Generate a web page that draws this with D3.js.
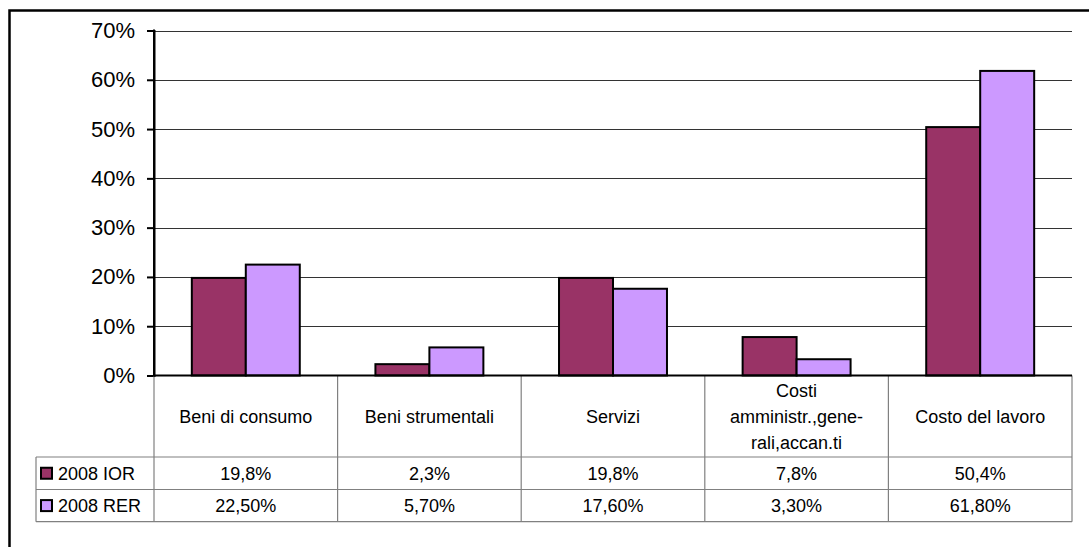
<!DOCTYPE html>
<html>
<head>
<meta charset="utf-8">
<script src="https://cdn.jsdelivr.net/npm/d3@7"></script>
<style>
  html, body { margin: 0; padding: 0; background: #fff; }
  svg { display: block; font-family: "Liberation Sans", Arial, sans-serif; }
</style>
</head>
<body>
<svg id="chart" width="1089" height="547"></svg>
<script>
// ---- data ----
const categories = ["Beni di consumo", "Beni strumentali", "Servizi", "Costi amministr.,generali,accan.ti", "Costo del lavoro"];
const categoryLines = [["Beni di consumo"], ["Beni strumentali"], ["Servizi"], ["Costi", "amministr.,gene-", "rali,accan.ti"], ["Costo del lavoro"]];
const seriesNames = ["2008 IOR", "2008 RER"];
const seriesColors = ["#993366", "#CC99FF"];
const valuesIOR = [0.198, 0.023, 0.198, 0.078, 0.504];
const valuesRER = [0.225, 0.057, 0.176, 0.033, 0.618];
const seriesDecimals = [1, 2];
const yTicks = [0, 0.1, 0.2, 0.3, 0.4, 0.5, 0.6, 0.7];

const seriesValues = [valuesIOR, valuesRER];

const svg = d3.select("#chart");

// layout
const plotLeft = 154, plotRight = 1072, plotTop = 30.5, plotBottom = 375.5;
const tableLeft = 36;
const row1 = 457, row2 = 489.5, row3 = 521.7;

// outer border
svg.append("rect").attr("x", 9.5).attr("y", 10.5).attr("width", 1200).attr("height", 800)
  .attr("fill", "none").attr("stroke", "#000").attr("stroke-width", 2.5);

const x0 = d3.scaleBand().domain(categories).range([plotLeft, plotRight]).paddingInner(0).paddingOuter(0);
const gapFrac = 0.206; // fraction of category width on each side
const x1 = d3.scaleBand().domain(seriesNames)
  .range([x0.bandwidth() * gapFrac, x0.bandwidth() * (1 - gapFrac)]).padding(0);
const y = d3.scaleLinear().domain([0, 0.7]).range([plotBottom, plotTop]);

// gridlines
svg.append("g").selectAll("line").data(yTicks.filter(d => d > 0)).join("line")
  .attr("x1", plotLeft).attr("x2", plotRight)
  .attr("y1", d => Math.round(y(d)) + 0.5).attr("y2", d => Math.round(y(d)) + 0.5)
  .attr("stroke", "#333").attr("stroke-width", 1);

// bars
const data = [];
categories.forEach((c, i) => seriesNames.forEach((s, j) => data.push({c, s, j, v: seriesValues[j][i]})));
svg.append("g").selectAll("rect").data(data).join("rect")
  .attr("x", d => x0(d.c) + x1(d.s))
  .attr("y", d => y(d.v))
  .attr("width", x1.bandwidth())
  .attr("height", d => y(0) - y(d.v))
  .attr("fill", d => seriesColors[d.j])
  .attr("stroke", "#000").attr("stroke-width", 2);

// y axis
const yAxis = d3.axisLeft(y).tickValues(yTicks).tickFormat(d3.format(".0%")).tickSize(7).tickPadding(12);
const gy = svg.append("g").attr("transform", `translate(${plotLeft},0)`).call(yAxis);
gy.select(".domain").attr("stroke", "#000").attr("stroke-width", 2);
gy.selectAll(".tick line").attr("stroke", "#000").attr("stroke-width", 2);
gy.selectAll(".tick text").attr("font-size", 22).attr("fill", "#000")
  .attr("font-family", "Liberation Sans, Arial, sans-serif");

// table grid
const tg = svg.append("g").attr("stroke", "#808080").attr("stroke-width", 1.2);
const edges = categories.map(c => x0(c)).concat([plotRight]);
edges.forEach((ex, i) => {
  tg.append("line").attr("x1", ex).attr("x2", ex).attr("y1", plotBottom).attr("y2", row3);
});
tg.append("line").attr("x1", tableLeft).attr("x2", tableLeft).attr("y1", row1).attr("y2", row3);
[row1, row2, row3].forEach(ry => {
  tg.append("line").attr("x1", tableLeft).attr("x2", plotRight).attr("y1", ry).attr("y2", ry);
});

// x axis line (category baseline)
svg.append("line").attr("x1", plotLeft).attr("x2", plotRight).attr("y1", y(0)).attr("y2", y(0))
  .attr("stroke", "#000").attr("stroke-width", 2);
svg.append("line").attr("x1", plotLeft).attr("x2", plotLeft).attr("y1", plotTop - 1).attr("y2", plotBottom + 1)
  .attr("stroke", "#000").attr("stroke-width", 2);

// category labels
const lineH = 26;
categories.forEach((c, i) => {
  const lines = categoryLines[i];
  const cx = x0(c) + x0.bandwidth() / 2;
  const midY = (plotBottom + row1) / 2;
  const startY = midY - (lines.length - 1) * lineH / 2 + 6.5;
  lines.forEach((t, k) => {
    svg.append("text").attr("x", cx).attr("y", startY + k * lineH)
      .attr("text-anchor", "middle").attr("font-size", 18).attr("fill", "#000").text(t);
  });
});

// legend + values
const locale = d3.formatLocale({decimal: ",", thousands: ".", grouping: [3], currency: ["€", ""]});
const rowTops = [row1, row2];
seriesNames.forEach((s, j) => {
  const rcy = (rowTops[j] + [row2, row3][j]) / 2;
  svg.append("rect").attr("x", 41).attr("y", rcy - 5.5).attr("width", 11).attr("height", 11)
    .attr("fill", seriesColors[j]).attr("stroke", "#000").attr("stroke-width", 2);
  svg.append("text").attr("x", 58).attr("y", rcy + 6.5).attr("font-size", 18).attr("fill", "#000").text(s);
  const fmt = locale.format(`.${seriesDecimals[j]}%`);
  categories.forEach((c, i) => {
    svg.append("text").attr("x", x0(c) + x0.bandwidth() / 2).attr("y", rcy + 6.5)
      .attr("text-anchor", "middle").attr("font-size", 18).attr("fill", "#000")
      .text(fmt(seriesValues[j][i]));
  });
});
</script>
</body>
</html>
